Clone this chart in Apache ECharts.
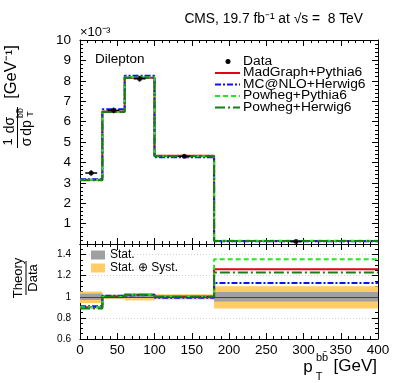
<!DOCTYPE html>
<html>
<head>
<meta charset="utf-8">
<script src="https://cdn.jsdelivr.net/npm/echarts@6/dist/echarts.min.js"></script>
<style>
  html, body { margin: 0; padding: 0; background: #fff; }
  #main { width: 399px; height: 383px; }
</style>
</head>
<body>
<div id="main"></div>
<script>
// bin edges in GeV
const binEdges = [0, 30, 60, 100, 180, 400];

// normalised cross section (x 10^-3)
const dataVals = [3.48, 6.55, 8.1, 4.3, 0.12];
const dataErr = [0.12, 0.14, 0.14, 0.08, 0.01];
const madgraphVals = [3.15, 6.5, 8.15, 4.32, 0.15];
const mcatnloVals = [3.18, 6.6, 8.25, 4.25, 0.135];
const powPythiaVals = [3.15, 6.5, 8.18, 4.3, 0.16];
const powHerwigVals = [3.12, 6.47, 8.15, 4.3, 0.148];

// theory / data
const madgraphRatio = [0.90, 1.00, 1.02, 1.00, 1.26];
const mcatnloRatio = [0.91, 1.01, 1.02, 0.99, 1.13];
const powPythiaRatio = [0.90, 1.00, 1.02, 1.00, 1.355];
const powHerwigRatio = [0.89, 1.00, 1.02, 1.00, 1.23];

// relative uncertainties of the data (up, down)
const statUnc = [0.03, 0.015, 0.012, 0.015, 0.045];
const totUp = [0.05, 0.02, 0.03, 0.025, 0.10];
const totDown = [0.06, 0.02, 0.035, 0.025, 0.11];

const xTicks = { min: 0, max: 400, interval: 50 };

const FONT = 'Liberation Sans';

// turn bin contents into a step line
function histo(vals) {
  let pts = [];
  vals.forEach((v, i) => {
    pts.push([binEdges[i], v]);
    pts.push([binEdges[i + 1], v]);
  });
  return pts;
}

function centers() {
  return binEdges.slice(0, -1).map((e, i) => (e + binEdges[i + 1]) / 2);
}

const chart = echarts.init(document.getElementById('main'), null, { renderer: 'canvas' });

const tickStyle = { lineStyle: { color: '#000', width: 1 } };

function xAx(grid, pos, labels) {
  return {
    type: 'value', gridIndex: grid, position: pos,
    min: xTicks.min, max: xTicks.max, interval: xTicks.interval,
    axisLine: { show: true, onZero: false, lineStyle: { color: '#000', width: 1 } },
    axisTick: { show: true, inside: true, length: 6, ...tickStyle },
    minorTick: { show: true, splitNumber: 5, length: 3, ...tickStyle },
    axisLabel: { show: labels, color: '#000', fontFamily: FONT, fontSize: 13.5, margin: 4 },
    splitLine: { show: false }
  };
}

function yAx(grid, pos, opts) {
  return Object.assign({
    type: 'value', gridIndex: grid, position: pos,
    axisLine: { show: true, onZero: false, lineStyle: { color: '#000', width: 1 } },
    axisTick: { show: true, inside: true, length: 6, ...tickStyle },
    minorTick: { show: true, splitNumber: 5, length: 3, ...tickStyle },
    axisLabel: { show: false },
    splitLine: { show: false }
  }, opts);
}

const lineCommon = { type: 'line', symbol: 'none', animation: false, silent: true };

function bandSeries(name, color, up, down, withCentre) {
  const s = {
    name: name, type: 'custom', xAxisIndex: 2, yAxisIndex: 2,
    itemStyle: { color: color },
    silent: true, animation: false,
    data: up.map((u, i) => [binEdges[i], binEdges[i + 1], 1 + u, 1 - down[i]]),
    renderItem: (params, api) => {
      const p1 = api.coord([api.value(0), api.value(2)]);
      const p2 = api.coord([api.value(1), api.value(3)]);
      return {
        type: 'rect',
        shape: { x: p1[0], y: p1[1], width: p2[0] - p1[0], height: p2[1] - p1[1] },
        style: { fill: color }
      };
    }
  };
  if (withCentre) {
    s.markLine = {
      silent: true, symbol: 'none', label: { show: false },
      lineStyle: { color: '#444', width: 1, type: 'solid' },
      data: [{ yAxis: 1 }]
    };
  }
  return s;
}

const models = [
  { name: 'MadGraph+Pythia6', main: madgraphVals, ratio: madgraphRatio, color: '#e3001b', type: 'solid' },
  { name: 'MC@NLO+Herwig6', main: mcatnloVals, ratio: mcatnloRatio, color: '#1010ff', type: [6, 2, 2, 2] },
  { name: 'Powheg+Pythia6', main: powPythiaVals, ratio: powPythiaRatio, color: '#22e822', type: [5, 3] },
  { name: 'Powheg+Herwig6', main: powHerwigVals, ratio: powHerwigRatio, color: '#157f15', type: [10, 3, 2, 3] }
];

let series = [];
series.push(bandSeries('Stat. \u2295 Syst.', '#ffcc66', totUp, totDown, false));
series.push(bandSeries('Stat.', '#a0a0a0', statUnc, statUnc, true));

models.forEach(m => {
  series.push({
    ...lineCommon, name: m.name, xAxisIndex: 0, yAxisIndex: 0,
    lineStyle: { color: m.color, width: 2, type: m.type },
    itemStyle: { color: m.color },
    data: histo(m.main)
  });
  series.push({
    ...lineCommon, name: m.name, xAxisIndex: 2, yAxisIndex: 2,
    lineStyle: { color: m.color, width: 2, type: m.type },
    itemStyle: { color: m.color },
    data: histo(m.ratio)
  });
});

const cx = centers();
series.push({
  name: 'errbars', type: 'custom', xAxisIndex: 0, yAxisIndex: 0,
  silent: true, animation: false, z: 5,
  data: dataVals.map((v, i) => [cx[i], v, dataErr[i]]),
  renderItem: (params, api) => {
    const x = api.value(0), y = api.value(1), e = api.value(2);
    const top = api.coord([x, y + e]);
    const bot = api.coord([x, y - e]);
    const l = api.coord([x - 8, y]);
    const r = api.coord([x + 8, y]);
    const st = { stroke: '#000', lineWidth: 1.5 };
    return {
      type: 'group', children: [
        { type: 'line', shape: { x1: top[0], y1: top[1], x2: bot[0], y2: bot[1] }, style: st },
        { type: 'line', shape: { x1: l[0], y1: l[1], x2: r[0], y2: r[1] }, style: st }
      ]
    };
  }
});
series.push({
  name: 'Data', type: 'scatter', xAxisIndex: 0, yAxisIndex: 0,
  symbol: 'circle', symbolSize: 5, itemStyle: { color: '#000' },
  silent: true, animation: false, z: 6,
  data: dataVals.map((v, i) => [cx[i], v])
});

function txt(x, y, s, size, align, rot, sx) {
  const o = {
    type: 'text', x: x, y: y,
    style: {
      text: s, font: size + 'px "Liberation Sans"', fill: '#000',
      align: align, verticalAlign: 'middle', textAlign: align, textVerticalAlign: 'middle'
    }
  };
  if (rot) o.rotation = Math.PI / 2;
  if (sx) o.scaleX = sx;
  return o;
}

function bar(x1, y1, x2, y2) {
  return { type: 'line', shape: { x1: x1, y1: y1, x2: x2, y2: y2 }, style: { stroke: '#000', lineWidth: 1 } };
}

const graphics = [
  txt(363, 19, 'CMS, 19.7 fb\u207B\u00B9 at \u221As =  8 TeV', 13.8, 'right'),
  txt(80, 32, '\u00D710\u207B\u00B3', 13, 'left'),
  txt(95, 59, 'Dilepton', 13.5, 'left'),
  // y title of the main panel
  txt(8, 142, '1', 13, 'center', true),
  txt(27, 142, '\u03C3', 14, 'center', true),
  bar(17.5, 136, 17.5, 148),
  txt(10, 125, 'd\u03C3', 14, 'center', true),
  txt(27, 128, 'dp', 14, 'center', true),
  txt(21, 113, 'bb\u0304', 9, 'center', true),
  txt(31, 114, 'T', 9, 'center', true),
  bar(17.5, 107, 17.5, 136),
  txt(11, 72, '[GeV\u207B\u00B9]', 16.5, 'center', true),
  // y title of the ratio panel
  txt(18, 278, 'Theory', 13, 'center', true),
  txt(33, 278, 'Data', 13, 'center', true),
  bar(26, 261, 26, 295),
  // x title
  txt(308, 367, 'p', 17, 'center'),
  txt(322, 358, 'bb\u0304', 11, 'center'),
  txt(319, 377, 'T', 11, 'center'),
  txt(377, 366, '[GeV]', 17, 'right')
];

// legend of the upper panel, drawn by hand to get ROOT's tight rows
const legendTop = 61.5, legendPitch = 11.5;
graphics.push({ type: 'circle', shape: { cx: 228, cy: legendTop, r: 2.5 }, style: { fill: '#000' } });
graphics.push(txt(243, legendTop, 'Data', 12, 'left', false, 1.15));
models.forEach((m, i) => {
  const y = legendTop + (i + 1) * legendPitch;
  graphics.push({
    type: 'line', shape: { x1: 215, y1: y, x2: 240, y2: y },
    style: { stroke: m.color, lineWidth: 2, lineDash: m.type === 'solid' ? null : m.type }
  });
  graphics.push(txt(243, y, m.name, 12, 'left', false, 1.15));
});

const option = {
  animation: false,
  backgroundColor: '#fff',
  grid: [
    { left: 80, width: 298, top: 40, height: 204 },
    { left: 80, width: 298, top: 244, height: 95 }
  ],
  xAxis: [
    xAx(0, 'bottom', false),
    xAx(0, 'top', false),
    xAx(1, 'bottom', true),
    xAx(1, 'top', false)
  ],
  yAxis: [
    yAx(0, 'left', {
      min: 0, max: 10, interval: 1,
      axisLabel: { show: true, showMinLabel: false, color: '#000', fontFamily: FONT, fontSize: 13.5, margin: 9 }
    }),
    yAx(0, 'right', { min: 0, max: 10, interval: 1 }),
    yAx(1, 'left', {
      min: 0.6, max: 1.5, interval: 0.2,
      minorTick: { show: true, splitNumber: 4, length: 3, ...tickStyle },
      axisLabel: { show: true, showMaxLabel: false, color: '#000', fontFamily: FONT, fontSize: 10, margin: 9 },
      splitLine: { show: true, lineStyle: { color: '#d0d0d0', type: [1, 2], width: 1 } }
    }),
    yAx(1, 'right', {
      min: 0.6, max: 1.5, interval: 0.2,
      minorTick: { show: true, splitNumber: 4, length: 3, ...tickStyle }
    })
  ],
  legend: [
    {
      orient: 'vertical', left: 91, top: 249, padding: 0,
      itemWidth: 14, itemHeight: 9, itemGap: 1,
      textStyle: { fontFamily: FONT, fontSize: 12, color: '#000' },
      selectedMode: false,
      data: [
        { name: 'Stat.', icon: 'rect' },
        { name: 'Stat. \u2295 Syst.', icon: 'rect' }
      ]
    }
  ],
  graphic: graphics,
  series: series
};

chart.setOption(option);
</script>
</body>
</html>
